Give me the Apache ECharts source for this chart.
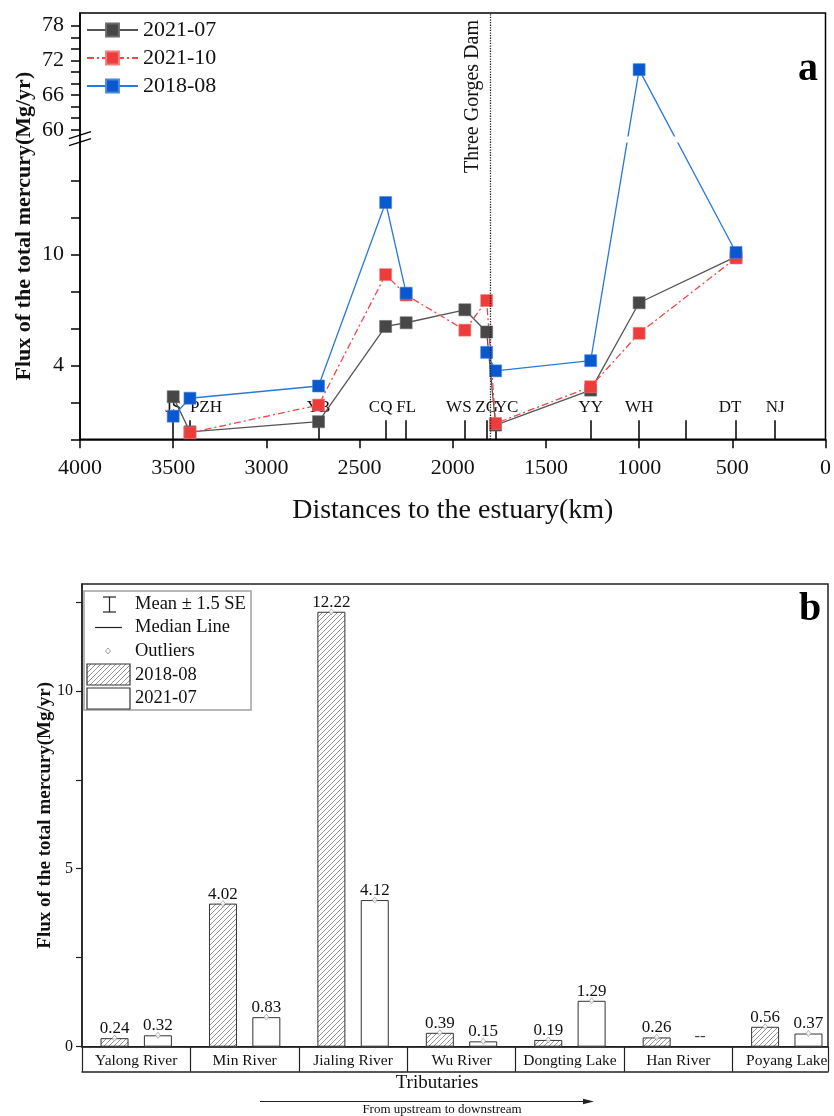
<!DOCTYPE html>
<html>
<head>
<meta charset="utf-8">
<script src="https://cdn.jsdelivr.net/npm/echarts@6/dist/echarts.min.js"></script>
<style>
  html, body { margin: 0; padding: 0; background: #fff; }
  #chart { width: 834px; height: 1116px; }
</style>
</head>
<body>
<div id="chart"></div>
<script>
// ---- panel a data ----
const stationNames = ['JS', 'PZH', 'YB', 'CQ', 'FL', 'WS', 'ZG', 'YC', 'YY', 'WH', 'DT', 'NJ'];
const stationKm = [3500, 3410, 2720, 2360, 2250, 1935, 1818, 1770, 1260, 1000, 480, 270];
const extraTickKm = [750];
const damKm = 1800;
const flux202107 = [2.3, 0.4, 0.95, 6.1, 6.3, 7.0, 5.8, 0.77, 2.66, 7.38, 9.87, null];
const flux202110 = [null, 0.35, 1.85, 8.9, 7.8, 5.9, 7.5, 0.86, 2.84, 5.73, 9.8, null];
const flux201808 = [1.25, 2.22, 2.88, 12.8, 7.9, null, 4.7, 3.7, 4.25, 70.4, 10.1, null];
const lowTicks = [0, 2, 4, 6, 8, 10, 12, 14];
const highTicks = [60, 62, 64, 66, 68, 70, 72, 74, 76, 78];
const yLabelsA = [4, 10, 60, 66, 72, 78];

// ---- panel b data ----
const tributaries = ['Yalong River', 'Min River', 'Jialing River', 'Wu River', 'Dongting Lake', 'Han River', 'Poyang Lake'];
const flux201808b = [0.24, 4.02, 12.22, 0.39, 0.19, 0.26, 0.56];
const flux202107b = [0.32, 0.83, 4.12, 0.15, 1.29, null, 0.37];
const yTicksB = [0, 2.5, 5, 7.5, 10, 12.5];
const yLabelsB = [0, 5, 10];

// broken y axis of panel a: lower part 0..16.2, upper part 58.3.. compressed
const LOW_TOP = 16.2, HIGH_BOTTOM = 58.3, HIGH_SCALE = 0.3125;
function toAxis(v) { return v <= LOW_TOP ? v : LOW_TOP + (v - HIGH_BOTTOM) * HIGH_SCALE; }
function fromAxis(a) { return a <= LOW_TOP + 1e-9 ? a : HIGH_BOTTOM + (a - LOW_TOP) / HIGH_SCALE; }

const FONT = 'Liberation Serif, Times New Roman, serif';
const BLACK = '#111';
const labelShift = { PZH: 16, WS: -6, YC: 11, CQ: -5, DT: -6 };

// hatch pattern
const pat = document.createElement('canvas');
pat.width = 5; pat.height = 5;
(function () {
  const c = pat.getContext('2d');
  c.fillStyle = '#fff'; c.fillRect(0, 0, 5, 5);
  c.strokeStyle = '#7a7a7a'; c.lineWidth = 0.8;
  c.beginPath();
  c.moveTo(-1, 6); c.lineTo(6, -1);
  c.moveTo(-1, 1); c.lineTo(1, -1);
  c.moveTo(4, 6); c.lineTo(6, 4);
  c.stroke();
})();
const hatch = { image: pat, repeat: 'repeat' };

function lineData(vals) {
  return stationKm.map((km, i) => [km, vals[i] == null ? '-' : toAxis(vals[i])]);
}

const rich = { n: { fontSize: 17, fontFamily: FONT, color: BLACK } };
Object.keys(labelShift).forEach(k => {
  const s = labelShift[k];
  rich[k] = { fontSize: 17, fontFamily: FONT, color: BLACK,
    padding: s > 0 ? [0, 0, 0, 2 * s] : [0, -2 * s, 0, 0] };
});

const xMaxB = 6.88;
const groupStart = tributaries.map((t, i) => i);

const barA = tributaries.map((t, i) => [i + 0.3, flux201808b[i]]);
const barB = tributaries.map((t, i) => [i + 0.7, flux202107b[i] == null ? '-' : flux202107b[i]]);
const outliers = barA.concat(barB).filter(d => d[1] !== '-' && d[1] != null);
const missing = barB.filter(d => d[1] === '-').map(d => [d[0], 0]);

const chart = echarts.init(document.getElementById('chart'));

const axisLineStyle = { color: '#000', width: 1.5 };

const option = {
  animation: false,
  backgroundColor: '#fff',
  textStyle: { fontFamily: FONT },
  legend: {
    data: ['2021-07', '2021-10', '2018-08'],
    orient: 'vertical', left: 81, top: 14,
    itemWidth: 51, itemHeight: 16, itemGap: 6,
    textStyle: { fontSize: 22, fontFamily: FONT, color: BLACK }
  },
  grid: [
    { left: 80, top: 13, width: 749, height: 426.3, show: true, borderColor: '#000', borderWidth: 1.5 },
    { left: 82, top: 584, width: 746, height: 462.7, show: true, borderColor: '#222', borderWidth: 1.5 }
  ],
  xAxis: [
    {
      gridIndex: 0, type: 'value', min: 0, max: 4000, interval: 500, inverse: true,
      axisLine: { onZero: false, lineStyle: axisLineStyle },
      axisTick: { length: 9, lineStyle: axisLineStyle },
      axisLabel: { fontSize: 22, margin: 18, color: BLACK, fontFamily: FONT, formatter: v => String(v) },
      splitLine: { show: false },
      name: 'Distances to the estuary(km)', nameLocation: 'middle', nameGap: 57,
      nameTextStyle: { fontSize: 28, fontFamily: FONT, color: BLACK }
    },
    {
      gridIndex: 0, type: 'value', min: 0, max: 4000, inverse: true, position: 'bottom',
      axisLine: { show: false, onZero: false },
      axisTick: { show: true, inside: true, length: 19, customValues: stationKm.concat(extraTickKm), lineStyle: axisLineStyle },
      axisLabel: {
        show: true, inside: true, margin: 23, customValues: stationKm,
        formatter: v => {
          const name = stationNames[stationKm.indexOf(v)] || '';
          return labelShift[name] !== undefined ? '{' + name + '|' + name + '}' : '{n|' + name + '}';
        },
        rich: rich
      },
      splitLine: { show: false }
    },
    {
      gridIndex: 1, type: 'value', min: 0, max: xMaxB,
      axisLine: { onZero: false, lineStyle: { color: '#222', width: 1.5 } },
      axisTick: { show: true, length: 25, customValues: groupStart.concat([xMaxB]), lineStyle: { color: '#222', width: 1.2 } },
      axisLabel: {
        show: true, margin: 6, customValues: tributaries.map((t, i) => i + 0.5),
        formatter: v => tributaries[Math.floor(v)],
        fontSize: 15.5, fontFamily: FONT, color: BLACK
      },
      splitLine: { show: false }
    },
    {
      gridIndex: 1, type: 'value', min: 0, max: xMaxB, position: 'bottom', offset: 25,
      axisLine: { show: true, onZero: false, lineStyle: { color: '#222', width: 1.5 } },
      axisTick: { show: false }, axisLabel: { show: false }, splitLine: { show: false }
    }
  ],
  yAxis: [
    {
      gridIndex: 0, type: 'value', min: 0, max: toAxis(80.2),
      axisLine: { show: true, onZero: false, lineStyle: axisLineStyle },
      axisTick: { show: true, length: 9, customValues: lowTicks.concat(highTicks).map(toAxis), lineStyle: axisLineStyle },
      axisLabel: {
        show: true, customValues: yLabelsA.map(toAxis), fontSize: 22, margin: 16, color: BLACK, fontFamily: FONT,
        formatter: a => String(Math.round(fromAxis(a)))
      },
      splitLine: { show: false },
      name: 'Flux of the total mercury(Mg/yr)', nameLocation: 'middle', nameGap: 45, nameMoveOverlap: false,
      nameTextStyle: { fontSize: 22, fontWeight: 'bold', fontFamily: FONT, color: BLACK }
    },
    {
      gridIndex: 1, type: 'value', min: 0, max: 13,
      axisLine: { show: true, onZero: false, lineStyle: { color: '#222', width: 1.5 } },
      axisTick: { show: true, length: 6, customValues: yTicksB, lineStyle: { color: '#222', width: 1.2 } },
      axisLabel: { show: true, customValues: yLabelsB, fontSize: 16, margin: 9, color: BLACK, fontFamily: FONT },
      splitLine: { show: false },
      name: 'Flux of the total mercury(Mg/yr)', nameLocation: 'middle', nameGap: 27, nameMoveOverlap: false,
      nameTextStyle: { fontSize: 19, fontWeight: 'bold', fontFamily: FONT, color: BLACK }
    }
  ],
  series: [
    {
      name: '2021-07', type: 'line', xAxisIndex: 0, yAxisIndex: 0,
      data: lineData(flux202107), connectNulls: false,
      symbol: 'rect', symbolSize: 12,
      lineStyle: { color: '#555', width: 1.3 },
      itemStyle: { color: '#474747', borderColor: '#6a6a6a', borderWidth: 0.6 },
      markLine: {
        silent: true, symbol: 'none',
        data: [{ xAxis: damKm }],
        lineStyle: { type: 'dotted', color: '#222', width: 1.3 },
        label: {
          show: true, position: 'insideEndTop', distance: 7,
          formatter: 'Three Gorges Dam', fontSize: 20, fontFamily: FONT, color: BLACK
        }
      }
    },
    {
      name: '2021-10', type: 'line', xAxisIndex: 0, yAxisIndex: 0,
      data: lineData(flux202110), connectNulls: false,
      symbol: 'rect', symbolSize: 12,
      lineStyle: { color: '#f04848', width: 1.3, type: [7, 3, 2, 3] },
      itemStyle: { color: '#ee3b3b', borderColor: '#f47a7a', borderWidth: 0.6 }
    },
    {
      name: '2018-08', type: 'line', xAxisIndex: 0, yAxisIndex: 0,
      data: lineData(flux201808), connectNulls: false,
      symbol: 'rect', symbolSize: 12,
      lineStyle: { color: '#2a78dc', width: 1.3 },
      itemStyle: { color: '#0a58d0', borderColor: '#4a86de', borderWidth: 0.6 }
    },
    {
      name: '2018-08b', type: 'bar', xAxisIndex: 2, yAxisIndex: 1,
      data: barA, barWidth: 28, barGap: '-100%',
      itemStyle: { color: hatch, borderColor: '#333', borderWidth: 1 },
      label: { show: true, position: 'top', distance: 1, fontSize: 17, fontFamily: FONT, color: BLACK,
        formatter: p => p.value[1].toFixed(2) }
    },
    {
      name: '2021-07b', type: 'bar', xAxisIndex: 2, yAxisIndex: 1,
      data: barB, barWidth: 28, barGap: '-100%',
      itemStyle: { color: '#fff', borderColor: '#333', borderWidth: 1 },
      label: { show: true, position: 'top', distance: 1, fontSize: 17, fontFamily: FONT, color: BLACK,
        formatter: p => p.value[1].toFixed(2) }
    },
    {
      name: 'outliers', type: 'scatter', xAxisIndex: 2, yAxisIndex: 1,
      data: outliers, symbol: 'diamond', symbolSize: [5, 6], z: 5,
      itemStyle: { color: '#fff', borderColor: '#888', borderWidth: 0.8 }
    },
    {
      name: 'missing', type: 'scatter', xAxisIndex: 2, yAxisIndex: 1,
      data: missing, symbolSize: 0,
      label: { show: true, position: 'top', distance: 2, formatter: '--', fontSize: 17, fontFamily: FONT, color: BLACK }
    }
  ]
};

chart.setOption(option);

// decorations: axis break, panel letters, panel b legend, tributaries arrow
const yBreak = chart.convertToPixel({ gridIndex: 0 }, [2000, LOW_TOP])[1];
const bandX1 = chart.convertToPixel({ gridIndex: 0 }, [1150, 0])[0];
const bandX2 = chart.convertToPixel({ gridIndex: 0 }, [560, 0])[0];
const txt = (x, y, text, size, extra) => Object.assign({
  type: 'text', z: 100,
  style: { x: x, y: y, text: text, font: size + 'px ' + FONT, fill: BLACK, textAlign: 'left', textVerticalAlign: 'middle' }
}, extra || {});

chart.setOption({
  graphic: [
    { type: 'rect', z: 90, shape: { x: bandX1, y: yBreak - 3, width: bandX2 - bandX1, height: 6 }, style: { fill: '#fff' } },
    { type: 'line', z: 100, shape: { x1: 69, y1: yBreak - 1, x2: 91, y2: yBreak - 8 }, style: { stroke: '#000', lineWidth: 1.5 } },
    { type: 'line', z: 100, shape: { x1: 69, y1: yBreak + 6, x2: 91, y2: yBreak - 1 }, style: { stroke: '#000', lineWidth: 1.5 } },
    { type: 'text', z: 100, style: { x: 808, y: 70, text: 'a', font: 'bold 40px ' + FONT, fill: '#000', textAlign: 'center', textVerticalAlign: 'middle' } },
    { type: 'text', z: 100, style: { x: 810, y: 610, text: 'b', font: 'bold 40px ' + FONT, fill: '#000', textAlign: 'center', textVerticalAlign: 'middle' } },
    // legend b
    { type: 'rect', z: 95, shape: { x: 84, y: 591, width: 167, height: 119 }, style: { fill: '#fff', stroke: '#a0a0a0', lineWidth: 1.5 } },
    { type: 'line', z: 100, shape: { x1: 109.5, y1: 597, x2: 109.5, y2: 612 }, style: { stroke: '#222', lineWidth: 1.2 } },
    { type: 'line', z: 100, shape: { x1: 103, y1: 597, x2: 116, y2: 597 }, style: { stroke: '#222', lineWidth: 1.2 } },
    { type: 'line', z: 100, shape: { x1: 103, y1: 612, x2: 116, y2: 612 }, style: { stroke: '#222', lineWidth: 1.2 } },
    txt(135, 604, 'Mean ± 1.5 SE', 18.5),
    { type: 'line', z: 100, shape: { x1: 95, y1: 627.5, x2: 122, y2: 627.5 }, style: { stroke: '#222', lineWidth: 1.2 } },
    txt(135, 627.5, 'Median Line', 18.5),
    { type: 'polygon', z: 100, shape: { points: [[108, 648], [110.5, 651], [108, 654], [105.5, 651]] }, style: { fill: '#fff', stroke: '#888', lineWidth: 0.8 } },
    txt(135, 651.5, 'Outliers', 18.5),
    { type: 'rect', z: 100, shape: { x: 87, y: 664, width: 43, height: 21 }, style: { fill: hatch, stroke: '#333', lineWidth: 1.2 } },
    txt(135, 675, '2018-08', 18.5),
    { type: 'rect', z: 100, shape: { x: 87, y: 688, width: 43, height: 21 }, style: { fill: '#fff', stroke: '#333', lineWidth: 1.2 } },
    txt(135, 698.5, '2021-07', 18.5),
    // tributaries arrow
    { type: 'text', z: 100, style: { x: 437, y: 1083, text: 'Tributaries', font: '19px ' + FONT, fill: BLACK, textAlign: 'center', textVerticalAlign: 'middle' } },
    { type: 'line', z: 100, shape: { x1: 260, y1: 1101.5, x2: 586, y2: 1101.5 }, style: { stroke: '#222', lineWidth: 1 } },
    { type: 'polygon', z: 100, shape: { points: [[583, 1098.8], [594, 1101.5], [583, 1104.2]] }, style: { fill: '#222' } },
    { type: 'text', z: 100, style: { x: 442, y: 1110, text: 'From upstream to downstream', font: '13px ' + FONT, fill: BLACK, textAlign: 'center', textVerticalAlign: 'middle' } }
  ]
});
</script>
</body>
</html>
